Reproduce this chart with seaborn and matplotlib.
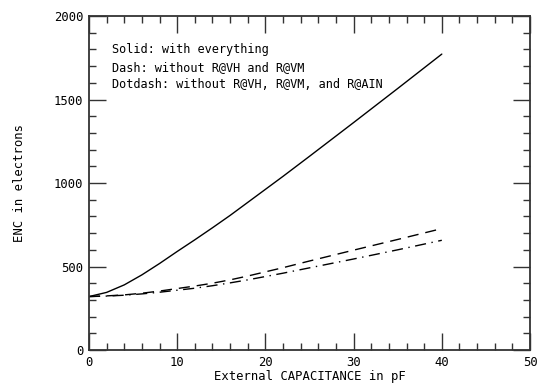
import matplotlib
matplotlib.use('Agg')
import matplotlib.pyplot as plt
import seaborn as sns
import pandas as pd
from matplotlib.ticker import MultipleLocator

# data
capacitance = [0, 2, 4, 6, 8, 10, 12, 14, 16, 18, 20, 22, 25, 30, 35, 40]
enc_solid = [320, 345, 390, 450, 518, 590, 660, 732, 806, 884, 962, 1040, 1160, 1362, 1566, 1772]
enc_dash = [320, 324, 330, 340, 353, 368, 383, 400, 420, 443, 468, 493, 533, 598, 662, 727]
enc_dotdash = [320, 323, 328, 336, 346, 358, 370, 385, 402, 420, 440, 460, 492, 545, 600, 657]

legend_lines = [
    "Solid: with everything",
    "Dash: without R@VH and R@VM",
    "Dotdash: without R@VH, R@VM, and R@AIN",
]

df = pd.DataFrame({
    'cap': capacitance,
    'solid': enc_solid,
    'dash': enc_dash,
    'dotdash': enc_dotdash,
})

sns.set_style('ticks')
plt.rcParams['font.family'] = ['DejaVu Sans Mono']
plt.rcParams['text.color'] = 'black'
plt.rcParams['axes.labelcolor'] = 'black'
plt.rcParams['xtick.color'] = '#333333'
plt.rcParams['ytick.color'] = '#333333'
plt.rcParams['xtick.labelcolor'] = 'black'
plt.rcParams['ytick.labelcolor'] = 'black'

fig = plt.figure(figsize=(5.37, 3.85), dpi=100)
ax = fig.add_axes([0.1657, 0.0909, 0.8213, 0.8675])

sns.lineplot(data=df, x='cap', y='solid', ax=ax, color='black', lw=1.0)
sns.lineplot(data=df, x='cap', y='dash', ax=ax, color='black', lw=1.0,
             linestyle=(0, (8, 5)))
sns.lineplot(data=df, x='cap', y='dotdash', ax=ax, color='black', lw=1.0,
             linestyle=(0, (8, 4, 1, 4)))

ax.set_xlim(0, 50)
ax.set_ylim(0, 2000)
ax.xaxis.set_major_locator(MultipleLocator(10))
ax.xaxis.set_minor_locator(MultipleLocator(2))
ax.yaxis.set_major_locator(MultipleLocator(500))
ax.yaxis.set_minor_locator(MultipleLocator(100))
ax.tick_params(which='both', direction='in', top=True, right=True,
               labelsize=8.8, width=1.0)
ax.tick_params(which='major', length=12, pad=4)
ax.tick_params(which='minor', length=5)
for s in ax.spines.values():
    s.set_color('#333333')
    s.set_linewidth(1.3)

ax.set_xlabel('External CAPACITANCE in pF', fontsize=8.8, labelpad=1)
ax.set_ylabel('ENC in electrons', fontsize=8.8, labelpad=20)

for i, t in enumerate(legend_lines):
    ax.text(0.052, 0.9 - i * 0.053, t, transform=ax.transAxes, fontsize=8.6,
            va='center', ha='left')

fig.savefig('out.png', dpi=100)
